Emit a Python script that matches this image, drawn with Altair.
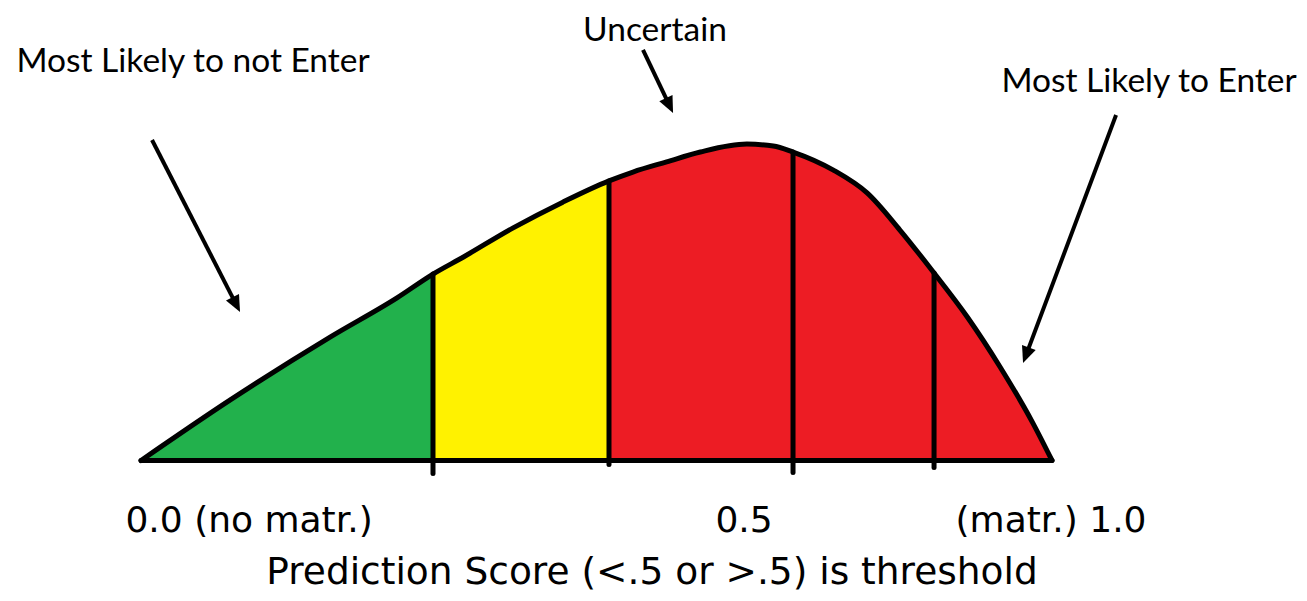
import math
import altair as alt
import pandas as pd

# ---- data -----------------------------------------------------------------
# curve: prediction score (0..1 along the baseline) vs relative density (peak = 1)
curve_score = [0.000, 0.098, 0.208, 0.281, 0.3205, 0.354, 0.408, 0.463, 0.5137,
               0.540, 0.577, 0.614, 0.665, 0.694, 0.7157, 0.760, 0.797, 0.833,
               0.8705, 0.907, 0.943, 0.979, 1.000]
curve_density = [0.000, 0.191, 0.390, 0.513, 0.588, 0.642, 0.733, 0.815, 0.882,
                 0.910, 0.942, 0.973, 0.998, 0.992, 0.973, 0.916, 0.844, 0.727,
                 0.5915, 0.4527, 0.295, 0.118, 0.000]

band_names = ["green", "yellow", "red"]
band_edges = [0.0, 0.3205, 0.5137, 1.0]
band_colors = ["#22B14C", "#FFF200", "#ED1C24"]

divider_score = [0.3205, 0.5137, 0.7157, 0.8705]
divider_top = [0.588, 0.882, 0.973, 0.5915]
divider_bottom = [-0.041, -0.013, -0.038, -0.022]

label_text = ["Most Likely to not Enter", "Uncertain", "Most Likely to Enter"]
label_score = [0.0571, 0.5642, 1.1065]
label_density = [1.2256, 1.3235, 1.1625]

arrow_start_score = [0.0121, 0.5510, 1.0703]
arrow_start_density = [1.011, 1.295, 1.0899]
arrow_tip_score = [0.1087, 0.5840, 0.9682]
arrow_tip_density = [0.4685, 1.0962, 0.3076]

tick_text = ["0.0 (no matr.)", "0.5", "(matr.) 1.0"]
tick_score = [0.1186, 0.6619, 0.9989]
tick_density = [-0.2256, -0.2256, -0.2256]

title_text = ["Prediction Score (<.5 or >.5) is threshold"]
title_score = [0.5609]
title_density = [-0.3890]

# ---- layout ----------------------------------------------------------------
W, H = 1291, 585
x_dom = [-0.1460, 1.2711]
y_dom = [-0.4180, 1.4274]
kx = W / (x_dom[1] - x_dom[0])
ky = H / (y_dom[1] - y_dom[0])

xs = alt.Scale(domain=x_dom, nice=False, zero=False)
ys = alt.Scale(domain=y_dom, nice=False, zero=False)


def X(f):
    return alt.X(f, type="quantitative", scale=xs, axis=None)


def Y(f):
    return alt.Y(f, type="quantitative", scale=ys, axis=None, stack=None)


# ---- tables ----------------------------------------------------------------
rows = []
for i, b in enumerate(band_names):
    lo, hi = band_edges[i], band_edges[i + 1]
    for s, d in zip(curve_score, curve_density):
        if lo - 1e-9 <= s <= hi + 1e-9:
            rows.append({"s": s, "d": d, "band": b})
area_df = pd.DataFrame(rows)
curve_df = pd.DataFrame({"s": curve_score, "d": curve_density})
div_df = pd.DataFrame({"s": divider_score, "top": divider_top, "bottom": divider_bottom})
base_df = pd.DataFrame({"s0": [band_edges[0]], "s1": [band_edges[-1]], "d": [0.0]})
label_df = pd.DataFrame({"s": label_score, "d": label_density, "t": label_text})
tick_df = pd.DataFrame({"s": tick_score, "d": tick_density, "t": tick_text})
title_df = pd.DataFrame({"s": title_score, "d": title_density, "t": title_text})

arows = []
for s0, d0, s1, d1 in zip(arrow_start_score, arrow_start_density,
                          arrow_tip_score, arrow_tip_density):
    dx = (s1 - s0) * kx
    dy = -(d1 - d0) * ky
    n = math.hypot(dx, dy)
    ux, uy = dx / n, dy / n
    ang = math.degrees(math.atan2(dx, -dy)) % 360
    arows.append({"s0": s0, "d0": d0,
                  "s1": s1 - 10 * ux / kx, "d1": d1 + 10 * uy / ky,
                  "st": s1, "dt": d1, "ang": ang})
arrow_df = pd.DataFrame(arows)

# ---- layers ----------------------------------------------------------------
area = alt.Chart(area_df).mark_area(interpolate="monotone").encode(
    x=X("s"), y=Y("d"), y2=alt.datum(0),
    color=alt.Color("band:N", scale=alt.Scale(domain=band_names, range=band_colors),
                    legend=None),
    detail="band:N",
)

outline = alt.Chart(curve_df).mark_line(
    interpolate="monotone", color="black", strokeWidth=5, strokeCap="round"
).encode(x=X("s"), y=Y("d"))

dividers = alt.Chart(div_df).mark_rule(color="black", strokeWidth=5, strokeCap="round").encode(
    x=X("s"), y=Y("bottom"), y2="top"
)

baseline = alt.Chart(base_df).mark_rule(color="black", strokeWidth=5, strokeCap="round").encode(
    x=X("s0"), x2="s1", y=Y("d")
)

shafts = alt.Chart(arrow_df).mark_rule(color="black", strokeWidth=4).encode(
    x=X("s0"), y=Y("d0"), x2="s1", y2="d1"
)

heads = alt.Chart(arrow_df).mark_point(
    shape="M0,0 L-0.75,1.7 L0.75,1.7 Z", filled=True, color="black",
    opacity=1, size=380, strokeWidth=0
).encode(x=X("st"), y=Y("dt"), angle=alt.Angle("ang:Q", scale=None))

labels = alt.Chart(label_df).mark_text(
    font="Lato", fontSize=33.5, color="black", align="center", baseline="alphabetic"
).encode(x=X("s"), y=Y("d"), text="t:N")

ticks = alt.Chart(tick_df).mark_text(
    font="DejaVu Sans", fontSize=36, color="black", align="center", baseline="alphabetic"
).encode(x=X("s"), y=Y("d"), text="t:N")

title = alt.Chart(title_df).mark_text(
    font="DejaVu Sans", fontSize=37.5, color="black", align="center", baseline="alphabetic"
).encode(x=X("s"), y=Y("d"), text="t:N")

chart = alt.layer(
    area, outline, dividers, baseline, shafts, heads, labels, ticks, title
).properties(
    width=W, height=H, padding=0, autosize=alt.AutoSizeParams(type="none"),
    background="white"
).configure_view(stroke=None)

chart.save("out.html", embed_options={"renderer": "svg", "actions": False})
